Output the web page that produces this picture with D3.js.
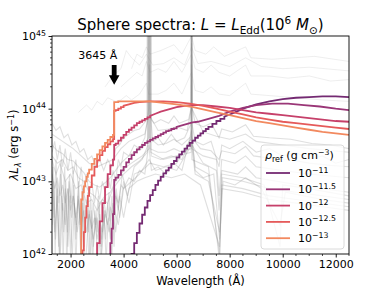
<!DOCTYPE html>
<html>
<head>
<meta charset="utf-8">
<script src="https://cdn.jsdelivr.net/npm/d3@7"></script>
<style>
body{margin:0;background:#fff}
text{font-family:"DejaVu Sans",sans-serif;fill:#000}
</style>
</head>
<body>
<div id="chart"></div>
<script>
// model spectra: [wavelength (A), log10 lambda L_lambda]
var rho11=[[4200,41.85],[4300,42.0],[4400,42.15],[4500,42.29],[4600,42.42],[4700,42.54],[4800,42.64],[4900,42.73],[5000,42.81],[5100,42.88],[5200,42.95],[5300,43.01],[5400,43.06],[5500,43.11],[5600,43.15],[5700,43.19],[5800,43.24],[5900,43.28],[6000,43.33],[6100,43.37],[6200,43.41],[6300,43.45],[6400,43.49],[6500,43.53],[6600,43.56],[6700,43.6],[6800,43.63],[6900,43.66],[7000,43.69],[7100,43.72],[7200,43.75],[7350,43.79],[7500,43.83],[7650,43.86],[7800,43.89],[8000,43.92],[8200,43.95],[8500,44.0],[9000,44.06],[9500,44.1],[10000,44.13],[10500,44.15],[11000,44.16],[11500,44.17],[12000,44.17],[12500,44.16]];
var rho115=[[3400,41.7],[3450,41.95],[3500,42.15],[3550,42.35],[3600,42.55],[3645,43.02],[3700,43.05],[3800,43.09],[3900,43.15],[4000,43.2],[4100,43.26],[4200,43.31],[4300,43.36],[4400,43.4],[4500,43.44],[4600,43.47],[4700,43.5],[4800,43.53],[4900,43.55],[5000,43.57],[5100,43.59],[5200,43.61],[5300,43.63],[5400,43.65],[5500,43.67],[5600,43.69],[5700,43.7],[5800,43.72],[5900,43.73],[6000,43.75],[6200,43.77],[6400,43.79],[6600,43.81],[6800,43.82],[7000,43.84],[7300,43.87],[7600,43.9],[8000,43.96],[8500,44.01],[9000,44.05],[9600,44.07],[10200,44.07],[10800,44.05],[11400,44.03],[12000,44.0],[12500,43.98]];
var rho12=[[2900,41.85],[3000,42.15],[3100,42.45],[3200,42.7],[3300,42.92],[3400,43.1],[3500,43.22],[3600,43.3],[3645,43.5],[3700,43.52],[3800,43.56],[3900,43.6],[4000,43.64],[4100,43.68],[4200,43.71],[4300,43.74],[4400,43.77],[4500,43.8],[4600,43.82],[4700,43.84],[4800,43.86],[4900,43.88],[5000,43.9],[5200,43.93],[5400,43.96],[5600,43.98],[5800,44.0],[6000,44.02],[6300,44.04],[6600,44.05],[7000,44.05],[7500,44.03],[8000,44.01],[8500,43.98],[9000,43.95],[9500,43.93],[10000,43.91],[10500,43.89],[11000,43.87],[11500,43.85],[12000,43.83],[12500,43.82]];
var rho125=[[2400,41.8],[2450,42.05],[2500,42.3],[2550,42.5],[2600,42.66],[2650,42.8],[2700,42.92],[2800,43.08],[2900,43.2],[3000,43.29],[3100,43.36],[3200,43.42],[3300,43.47],[3400,43.51],[3500,43.55],[3600,43.58],[3645,43.97],[3700,43.98],[3800,44.0],[3900,44.02],[4000,44.04],[4200,44.06],[4400,44.08],[4600,44.09],[5000,44.1],[5500,44.1],[6000,44.09],[6500,44.07],[7000,44.04],[7500,44.0],[8000,43.96],[8500,43.92],[9000,43.88],[9500,43.85],[10000,43.82],[10500,43.8],[11000,43.78],[11500,43.76],[12000,43.74],[12500,43.72]];
var rho13=[[2400,41.0],[2400,42.75],[2450,42.85],[2500,42.93],[2550,43.0],[2600,43.06],[2650,43.11],[2700,43.16],[2800,43.24],[2900,43.31],[3000,43.37],[3100,43.43],[3200,43.48],[3300,43.53],[3400,43.57],[3500,43.61],[3600,43.64],[3645,44.09],[3800,44.1],[4000,44.1],[4500,44.1],[5000,44.1],[5500,44.08],[6000,44.06],[6500,44.03],[7000,43.99],[7500,43.95],[8000,43.91],[8500,43.87],[9000,43.83],[9500,43.8],[10000,43.77],[10500,43.74],[11000,43.71],[11500,43.68],[12000,43.66],[12500,43.64]];

var seriesLabels=["\u221211","\u221211.5","\u221212","\u221212.5","\u221213"];
var seriesColors=["#742a72","#9a3677","#c6406a","#e55a5a","#f2895f"];

// observed comparison spectra (grey background)
var bgA=[[1300,43.5],[1500,43.42],[1700,43.38],[1900,43.3],[2100,43.28],[2300,43.2],[2500,43.12],[2700,43.0],[2900,42.95],[3100,42.92],[3300,42.98],[3500,43.05],[3700,43.15],[3900,43.25],[4100,43.32],[4300,43.38],[4500,43.42],[4700,43.45],[4940,43.6],[4950,45.4],[4970,45.4],[4980,43.6],[5300,43.5],[5600,43.52],[5900,43.58],[6200,43.5],[6550,43.62],[6558,45.4],[6568,45.4],[6576,43.6],[6900,43.45],[7300,43.42],[7600,43.3],[7700,43.42],[8200,43.38],[8600,43.48],[8900,43.35],[9500,43.32],[10200,43.3],[11000,43.25],[11800,43.22],[12500,43.2]];
var bgB=[[1300,43.3],[1450,43.1],[1600,43.25],[1800,43.0],[2000,43.1],[2200,42.9],[2400,42.95],[2600,42.7],[2800,42.75],[3000,42.6],[3200,42.75],[3400,42.7],[3600,42.9],[3800,43.0],[4000,43.1],[4300,43.2],[4600,43.28],[4900,43.4],[4910,45.4],[5030,45.4],[5040,43.35],[5400,43.3],[5800,43.35],[6200,43.3],[6550,43.6],[6558,45.4],[6570,45.4],[6578,43.5],[7000,43.25],[7500,43.15],[7600,42.6],[7700,43.15],[8300,43.1],[8600,43.2],[9000,43.05],[9800,43.0],[10600,42.95],[11500,42.9],[12500,42.85]];
var bgC=[[1300,43.65],[1500,43.6],[1700,43.55],[1900,43.5],[2100,43.45],[2400,43.35],[2700,43.25],[3000,43.2],[3300,43.25],[3600,43.3],[3900,43.45],[4200,43.55],[4500,43.6],[4800,43.65],[4950,43.9],[4960,45.4],[4980,45.4],[4990,43.9],[5300,43.7],[5700,43.72],[6000,43.75],[6400,43.7],[6555,44.0],[6560,45.4],[6568,45.4],[6574,44.0],[7000,43.68],[7500,43.62],[8000,43.58],[8600,43.65],[9000,43.55],[10000,43.5],[11000,43.45],[12500,43.4]];
var bgD=[[1300,43.2],[1380,42.5],[1450,43.3],[1550,42.1],[1620,43.1],[1700,42.6],[1780,43.2],[1860,41.8],[1940,43.0],[2020,42.7],[2100,43.15],[2200,42.2],[2300,43.0],[2400,41.9],[2480,42.9],[2560,42.5],[2650,42.85],[2750,41.9],[2850,42.7],[2950,42.4],[3050,42.8],[3150,42.1],[3250,42.75],[3350,42.5],[3450,42.85],[3550,41.9],[3650,42.9],[3800,42.6],[3950,43.1],[4150,42.8],[4400,43.2],[4700,43.3],[4920,43.5],[4930,45.4],[5010,45.4],[5020,43.4],[5500,43.3],[6000,43.35],[6550,43.4],[6556,44.6],[6570,44.6],[6576,43.3],[7200,43.2],[7620,41.9],[7700,43.1],[8500,43.05],[9300,42.95],[9900,42.1],[10000,42.95],[11000,42.9],[12500,42.8]];
var bgE=[[1300,42.9],[1400,42.3],[1500,42.8],[1600,41.9],[1700,42.7],[1800,42.4],[1900,42.9],[2000,42.0],[2100,42.8],[2250,42.3],[2400,42.7],[2550,41.8],[2700,42.6],[2850,42.2],[3000,42.5],[3150,41.9],[3300,42.6],[3450,42.3],[3600,42.7],[3800,42.4],[4000,42.9],[4300,43.0],[4600,43.1],[4960,43.3],[5200,43.15],[5600,43.2],[6000,43.15],[6563,43.5],[6700,43.1],[7200,43.0],[7620,42.3],[7700,42.95],[8500,42.9],[9500,42.8],[10500,42.75],[11500,42.7],[12500,42.65]];
var bgF=[[1300,43.4],[1400,43.55],[1500,43.3],[1600,43.5],[1700,43.2],[1800,43.45],[1900,43.15],[2000,43.4],[2100,43.1],[2200,43.3],[2300,42.9],[2400,43.2],[2500,42.85],[2600,43.1],[2700,42.8],[2800,43.0],[2900,42.7],[3000,42.95],[3100,42.75],[3200,43.0],[3300,42.85],[3400,43.1],[3500,42.9],[3600,43.15],[3700,43.0],[3800,43.3],[3900,43.2],[4000,43.4],[4200,43.35],[4400,43.5],[4600,43.45],[4800,43.6],[4945,44.0],[4955,45.4],[4985,45.4],[4995,44.0],[5100,43.55],[5300,43.6],[5500,43.5],[5800,43.65],[6000,43.55],[6300,43.6],[6552,43.8],[6560,45.4],[6566,45.4],[6572,43.8],[6700,43.55],[7000,43.5],[7300,43.55],[7600,43.2],[7700,43.5],[8000,43.45],[8500,43.55],[9000,43.4],[9500,43.45],[10000,43.35],[10500,43.4],[11000,43.3],[11500,43.35],[12000,43.25],[12500,43.3]];
var bgG=[[1300,43.1],[1400,42.9],[1500,43.05],[1600,42.8],[1700,42.95],[1800,42.7],[1900,42.9],[2000,42.6],[2100,42.8],[2200,42.5],[2300,42.75],[2400,42.4],[2500,42.6],[2600,42.3],[2700,42.55],[2800,42.35],[2900,42.5],[3000,42.2],[3100,42.45],[3200,42.3],[3300,42.55],[3400,42.4],[3500,42.65],[3600,42.5],[3700,42.8],[3800,42.7],[3900,42.95],[4000,42.9],[4200,43.05],[4400,43.0],[4600,43.15],[4800,43.1],[4950,43.5],[5050,43.15],[5300,43.2],[5600,43.1],[5900,43.25],[6200,43.15],[6563,43.7],[6700,43.15],[7000,43.05],[7400,43.1],[7620,42.2],[7750,43.0],[8200,42.95],[8600,43.05],[9200,42.9],[9900,42.4],[10100,42.85],[10800,42.8],[11500,42.75],[12500,42.7]];
var bgH=[[1300,43.8],[1450,43.7],[1600,43.75],[1750,43.6],[1900,43.65],[2050,43.5],[2200,43.55],[2350,43.4],[2500,43.45],[2650,43.3],[2800,43.35],[2950,43.2],[3100,43.3],[3250,43.15],[3400,43.3],[3550,43.2],[3700,43.45],[3850,43.5],[4000,43.6],[4200,43.65],[4400,43.7],[4600,43.72],[4880,43.85],[4890,45.4],[5030,45.4],[5040,43.85],[5150,43.8],[5400,43.85],[5700,43.8],[5900,43.9],[6100,43.8],[6450,43.85],[6540,44.0],[6548,45.4],[6582,45.4],[6590,44.0],[6700,43.8],[7000,43.75],[7300,43.8],[7600,43.6],[7700,43.72],[8100,43.68],[8600,43.78],[8900,43.62],[9500,43.6],[10300,43.58],[11100,43.52],[11800,43.5],[12500,43.45]];
var bgI=[[1300,42.6],[1350,43.2],[1420,42.0],[1490,43.0],[1560,42.7],[1640,43.3],[1720,41.9],[1800,42.9],[1880,42.3],[1960,43.1],[2040,42.5],[2120,42.95],[2200,41.8],[2280,42.8],[2360,42.4],[2440,42.9],[2520,42.1],[2600,42.75],[2680,42.3],[2760,42.8],[2840,41.9],[2920,42.6],[3000,42.3],[3080,42.7],[3160,42.0],[3240,42.65],[3320,42.2],[3400,42.7],[3480,42.45],[3560,42.8],[3640,42.1],[3720,42.9],[3850,42.5],[4000,43.0],[4200,42.7],[4400,43.1],[4700,43.15],[5000,43.25],[5500,43.2],[6000,43.25],[6563,43.6],[6700,43.2],[7200,43.1],[7620,42.0],[7720,43.05],[8500,43.0],[9500,42.9],[10500,42.85],[11500,42.8],[12500,42.75]];
var bgJ=[[1300,43.35],[1500,43.25],[1700,43.3],[1900,43.15],[2100,43.2],[2300,43.05],[2500,43.0],[2700,42.85],[2900,42.8],[3100,42.7],[3300,42.8],[3500,42.85],[3700,43.0],[3900,43.1],[4100,43.2],[4300,43.25],[4500,43.3],[4700,43.35],[4965,43.45],[4975,44.6],[4985,44.6],[4995,43.45],[5300,43.4],[5600,43.4],[5900,43.45],[6200,43.4],[6555,43.45],[6563,44.9],[6571,43.45],[7000,43.35],[7500,43.3],[7600,42.8],[7700,43.3],[8200,43.25],[8600,43.35],[9000,43.2],[10000,43.15],[11000,43.1],[12500,43.05]];
var bgK=[[1300,42.4],[1360,43.0],[1430,42.2],[1500,42.9],[1580,41.9],[1660,42.8],[1740,42.3],[1820,43.0],[1900,42.1],[1980,42.8],[2060,41.9],[2140,42.7],[2220,42.4],[2300,42.9],[2380,42.0],[2460,42.7],[2540,42.3],[2620,42.6],[2700,41.8],[2780,42.6],[2860,42.1],[2940,42.5],[3020,41.9],[3100,42.55],[3180,42.2],[3260,42.6],[3340,41.9],[3420,42.5],[3500,42.2],[3600,42.6],[3700,42.3],[3850,42.8],[4000,42.5],[4200,42.9],[4500,43.0],[4800,43.05],[5200,43.1],[5800,43.05],[6300,43.1],[6900,42.95],[7620,42.1],[7700,42.9],[8500,42.85],[9500,42.75],[10500,42.7],[11500,42.65],[12500,42.6]];
var bgTopA=[[2300,43.95],[2600,44.05],[2800,43.98],[3000,44.1],[3200,44.05],[3400,44.15],[3700,44.1],[3900,44.12],[4100,44.18],[4300,44.12],[4600,44.2],[4861,44.35],[4950,44.2],[5300,44.2],[5600,44.25],[5900,44.35],[6200,44.2],[6563,44.5],[6700,44.25],[7000,44.22],[7300,44.3],[7600,44.2],[8000,44.18],[8600,44.35],[8800,44.2],[9500,44.18],[10500,44.15],[11500,44.12],[12500,44.1]];
var bgTopB=[[3900,44.3],[4200,44.4],[4500,44.5],[4700,44.45],[4861,44.65],[5000,44.5],[5300,44.55],[5600,44.5],[5900,44.65],[6200,44.5],[6563,44.75],[6700,44.55],[7000,44.5],[7300,44.6],[7600,44.5],[8000,44.45],[8600,44.6],[8800,44.45],[9500,44.45],[10200,44.42],[11000,44.45],[11800,44.38],[12500,44.4]];
var bgTopC=[[4300,44.55],[4500,44.75],[4700,44.7],[4861,44.85],[5000,44.75],[5400,44.8],[5900,44.88],[6200,44.75],[6563,45.0],[6700,44.8],[7100,44.75],[7400,44.85],[7800,44.72],[8600,44.85],[8800,44.7],[9600,44.68],[10400,44.7],[11200,44.72],[12500,44.65]];
var bgTopD=[[3300,44.3],[3600,44.45],[3900,44.55],[4100,44.8],[4300,44.7],[4600,44.6],[4861,44.75],[5100,44.6],[5500,44.62],[5900,44.7],[6300,44.6],[6563,44.85],[6800,44.62],[7300,44.65],[8000,44.58],[8600,44.7],[9200,44.58],[10000,44.55],[11000,44.57],[12500,44.52]];

var xTicks=[2000,4000,6000,8000,10000,12000];
var yTicks=[42,43,44,45];
var balmerEdge=3645;

var margins={l:52,t:36,r:39,b:37};
var W=388,H=291;
var iw=W-margins.l-margins.r, ih=H-margins.t-margins.b;

var svg=d3.select("#chart").append("svg").attr("width",W).attr("height",H);
var g=svg.append("g").attr("transform","translate("+margins.l+","+margins.t+")");

var x=d3.scaleLinear().domain([1300,12500]).range([0,iw]);
var y=d3.scaleLog().domain([1e42,1e45]).range([ih,0]);

svg.append("defs").append("clipPath").attr("id","clip")
    .append("rect").attr("width",iw).attr("height",ih);
var plot=g.append("g").attr("clip-path","url(#clip)");

var line=d3.line().x(function(d){return x(d[0])}).y(function(d){return y(Math.pow(10,d[1]))});

// fine wavelength grid is drawn as steps, coarse parts as straight segments
function stepped(s){
    var out=[];
    for(var i=0;i<s.length;i++){
        out.push(s[i]);
        if(i<s.length-1 && s[i+1][0]-s[i][0]<=160 && s[i+1][0]>s[i][0]) out.push([s[i+1][0],s[i][1]]);
    }
    return out;
}

// background spectra
[bgTopA,bgTopB,bgTopC,bgTopD].forEach(function(s){
    plot.append("path").attr("d",line(s)).attr("fill","none")
        .attr("stroke","#a8a8a8").attr("stroke-opacity",0.2).attr("stroke-width",1);
});
[bgA,bgB,bgC,bgD,bgE,bgF,bgG,bgH,bgI,bgJ,bgK].forEach(function(s){
    plot.append("path").attr("d",line(s)).attr("fill","none")
        .attr("stroke","#808080").attr("stroke-opacity",0.25).attr("stroke-width",1.1);
});

// model spectra
var models=[rho11,rho115,rho12,rho125,rho13];
models.forEach(function(s,i){
    plot.append("path").attr("d",line(stepped(s))).attr("fill","none")
        .attr("stroke",seriesColors[i]).attr("stroke-width",1.8);
});

// frame
g.append("rect").attr("width",iw).attr("height",ih).attr("fill","none").attr("stroke","#000").attr("stroke-width",0.9);

// x axis
var xMinor=d3.range(1500,12501,500).filter(function(v){return xTicks.indexOf(v)<0});
var xa=g.append("g").attr("transform","translate(0,"+ih+")");
xa.call(d3.axisBottom(x).tickValues(xTicks).tickSize(3.5).tickPadding(2.5).tickFormat(d3.format("d")));
xa.select(".domain").remove();
xa.selectAll("text").attr("font-size",11).attr("font-family","DejaVu Sans");
xa.selectAll("line").attr("stroke-width",0.9);
xa.selectAll(".minor").data(xMinor).enter().append("line").attr("class","minor")
    .attr("x1",function(d){return x(d)}).attr("x2",function(d){return x(d)})
    .attr("y1",0).attr("y2",2).attr("stroke","#000").attr("stroke-width",0.7);

// y axis
var yMinor=[];
[42,43,44].forEach(function(e){for(var k=2;k<10;k++)yMinor.push(k*Math.pow(10,e))});
var ya=g.append("g");
ya.call(d3.axisLeft(y).tickValues(yTicks.map(function(e){return Math.pow(10,e)})).tickSize(3.5).tickFormat(""));
ya.select(".domain").remove();
ya.selectAll("line").attr("stroke-width",0.9);
ya.selectAll(".minor").data(yMinor).enter().append("line").attr("class","minor")
    .attr("x1",-2).attr("x2",0)
    .attr("y1",function(d){return y(d)}).attr("y2",function(d){return y(d)})
    .attr("stroke","#000").attr("stroke-width",0.7);
yTicks.forEach(function(e){
    var t=ya.append("text").attr("x",-6).attr("y",y(Math.pow(10,e))+4).attr("text-anchor","end").attr("font-size",11);
    t.append("tspan").text("10");
    t.append("tspan").attr("font-size",7.8).attr("dy",-4.5).text(e);
});

// axis labels
svg.append("text").attr("x",margins.l+iw/2).attr("y",285).attr("text-anchor","middle").attr("font-size",11.5)
    .text("Wavelength (\u00c5)");
var yl=svg.append("text").attr("transform","translate(18,"+(margins.t+ih/2)+") rotate(-90)")
    .attr("text-anchor","middle").attr("font-size",11.5);
yl.append("tspan").attr("font-style","italic").text("\u03bbL");
yl.append("tspan").attr("font-style","italic").attr("font-size",8.2).attr("dy",2.5).text("\u03bb");
yl.append("tspan").attr("dy",-2.5).text(" (erg s");
yl.append("tspan").attr("font-size",8).attr("dy",-4.5).text("\u22121");
yl.append("tspan").attr("dy",4.5).text(")");

// title
var tt=svg.append("text").attr("x",margins.l+iw/2).attr("y",30).attr("text-anchor","middle").attr("font-size",15);
tt.append("tspan").text("Sphere spectra: ");
tt.append("tspan").attr("font-style","italic").text("L");
tt.append("tspan").text(" = ");
tt.append("tspan").attr("font-style","italic").text("L");
tt.append("tspan").attr("font-size",10.5).attr("dy",3.5).text("Edd");
tt.append("tspan").attr("dy",-3.5).text("(10");
tt.append("tspan").attr("font-size",10.5).attr("dy",-6).text("6");
tt.append("tspan").attr("dy",6).text(" ");
tt.append("tspan").attr("font-style","italic").text("M");
tt.append("tspan").attr("font-size",10.5).attr("dy",3.5).text("\u2299");
tt.append("tspan").attr("dy",-3.5).text(")");

// Balmer edge annotation
var ax=x(balmerEdge);
g.append("path")
    .attr("d","M"+(ax-2.4)+","+y(Math.pow(10,44.6))+"V"+y(Math.pow(10,44.46))+"H"+(ax-5.3)
        +"L"+ax+","+y(Math.pow(10,44.33))+"L"+(ax+5.3)+","+y(Math.pow(10,44.46))+"H"+(ax+2.4)+"V"+y(Math.pow(10,44.6))+"Z")
    .attr("fill","#000");
g.append("text").attr("x",x(3030)).attr("y",y(Math.pow(10,44.68))).attr("text-anchor","middle").attr("font-size",11)
    .text("3645 \u00c5");

// legend
var lg=svg.append("g").attr("transform","translate(261,145)");
lg.append("rect").attr("width",83).attr("height",104).attr("rx",3).attr("fill","#fff").attr("fill-opacity",0.8)
    .attr("stroke","#d6d6d6").attr("stroke-width",0.9);
var lt=lg.append("text").attr("x",4).attr("y",14).attr("font-size",11);
lt.append("tspan").attr("font-style","italic").text("\u03c1");
lt.append("tspan").attr("font-size",8).attr("dy",2.5).text("ref");
lt.append("tspan").attr("dy",-2.5).text(" (g cm");
lt.append("tspan").attr("font-size",7.8).attr("dy",-4.5).text("\u22123");
lt.append("tspan").attr("dy",4.5).text(")");
seriesLabels.forEach(function(lab,i){
    var yy=28+i*16.3;
    lg.append("line").attr("x1",5).attr("x2",29).attr("y1",yy).attr("y2",yy)
        .attr("stroke",seriesColors[i]).attr("stroke-width",1.8);
    var te=lg.append("text").attr("x",37).attr("y",yy+4).attr("font-size",11);
    te.append("tspan").text("10");
    te.append("tspan").attr("font-size",7.8).attr("dy",-4.5).text(lab);
});
</script>
</body>
</html>
